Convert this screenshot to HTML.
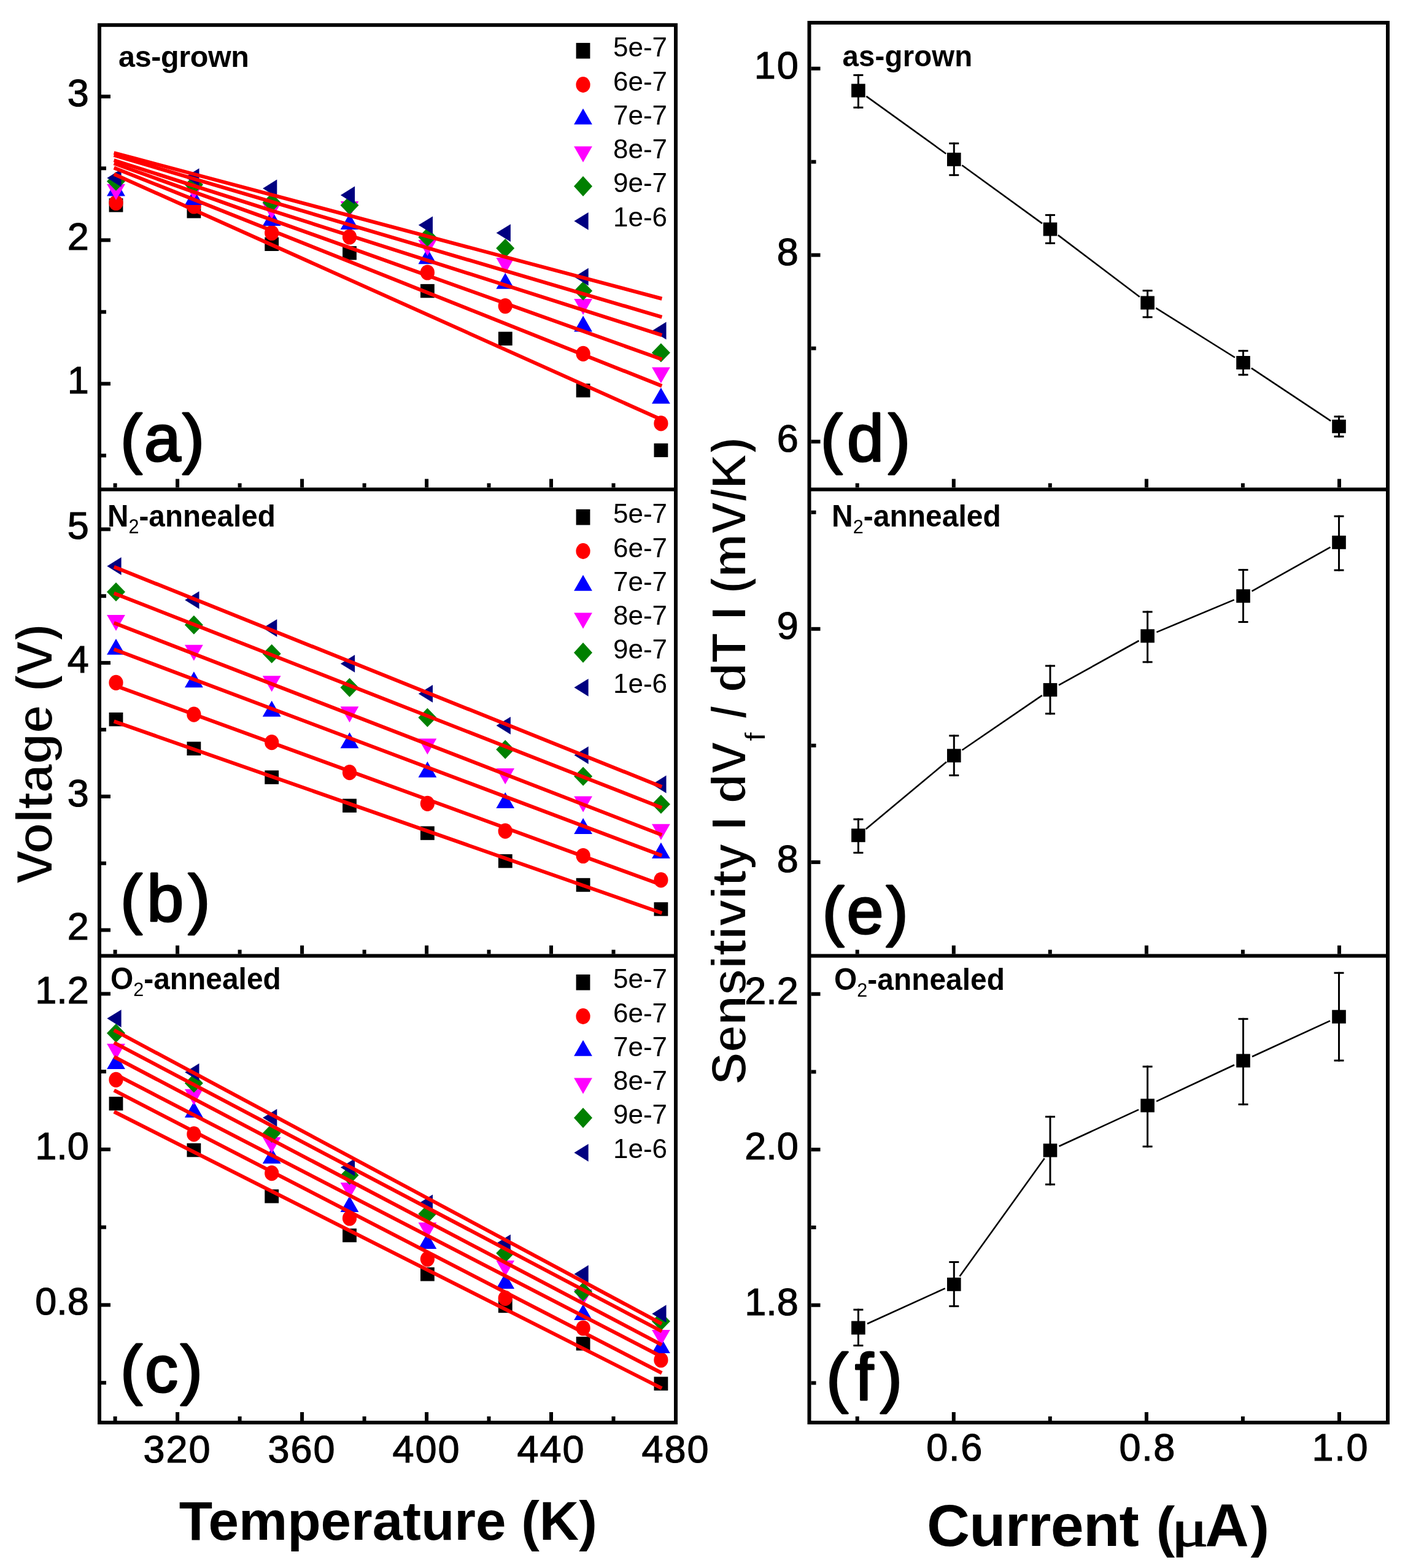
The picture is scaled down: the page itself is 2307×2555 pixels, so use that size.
<!DOCTYPE html>
<html><head><meta charset="utf-8"><title>Figure</title><style>html,body{margin:0;padding:0;background:#fff;}svg{display:block;}</style></head><body>
<svg width="2307" height="2555" viewBox="0 0 2307 2555" font-family='"Liberation Sans", Arial, sans-serif'>
<rect x="0" y="0" width="2307" height="2555" fill="#fff"/>
<defs><filter id="thin" x="-5%" y="-5%" width="110%" height="110%"><feMorphology operator="erode" radius="1"/></filter></defs>
<g fill="#000"><rect x="165.0" y="622.3" width="15.0" height="6.0"/><rect x="165.0" y="388.3" width="15.0" height="6.0"/><rect x="165.0" y="154.3" width="15.0" height="6.0"/><rect x="165.0" y="739.3" width="8.0" height="6.0"/><rect x="165.0" y="505.3" width="8.0" height="6.0"/><rect x="165.0" y="271.3" width="8.0" height="6.0"/><rect x="165.0" y="1512.5" width="15.0" height="6.0"/><rect x="165.0" y="1294.8" width="15.0" height="6.0"/><rect x="165.0" y="1077.1" width="15.0" height="6.0"/><rect x="165.0" y="859.4" width="15.0" height="6.0"/><rect x="165.0" y="1403.7" width="8.0" height="6.0"/><rect x="165.0" y="1185.9" width="8.0" height="6.0"/><rect x="165.0" y="968.2" width="8.0" height="6.0"/><rect x="165.0" y="2123.4" width="15.0" height="6.0"/><rect x="165.0" y="1869.9" width="15.0" height="6.0"/><rect x="165.0" y="1616.4" width="15.0" height="6.0"/><rect x="165.0" y="2250.2" width="8.0" height="6.0"/><rect x="165.0" y="1996.7" width="8.0" height="6.0"/><rect x="165.0" y="1743.1" width="8.0" height="6.0"/><rect x="1321.5" y="716.6" width="15.0" height="6.0"/><rect x="1321.5" y="412.6" width="15.0" height="6.0"/><rect x="1321.5" y="108.7" width="15.0" height="6.0"/><rect x="1321.5" y="564.6" width="8.0" height="6.0"/><rect x="1321.5" y="260.7" width="8.0" height="6.0"/><rect x="1321.5" y="1401.9" width="15.0" height="6.0"/><rect x="1321.5" y="1021.8" width="15.0" height="6.0"/><rect x="1321.5" y="1211.8" width="8.0" height="6.0"/><rect x="1321.5" y="831.8" width="8.0" height="6.0"/><rect x="1321.5" y="2123.7" width="15.0" height="6.0"/><rect x="1321.5" y="1870.2" width="15.0" height="6.0"/><rect x="1321.5" y="1616.7" width="15.0" height="6.0"/><rect x="1321.5" y="2250.5" width="8.0" height="6.0"/><rect x="1321.5" y="1997.0" width="8.0" height="6.0"/><rect x="1321.5" y="1743.5" width="8.0" height="6.0"/><rect x="286.1" y="780.4" width="6.0" height="14.0"/><rect x="489.1" y="780.4" width="6.0" height="14.0"/><rect x="692.1" y="780.4" width="6.0" height="14.0"/><rect x="895.0" y="780.4" width="6.0" height="14.0"/><rect x="184.6" y="787.4" width="6.0" height="7.0"/><rect x="387.6" y="787.4" width="6.0" height="7.0"/><rect x="590.6" y="787.4" width="6.0" height="7.0"/><rect x="793.5" y="787.4" width="6.0" height="7.0"/><rect x="996.5" y="787.4" width="6.0" height="7.0"/><rect x="286.1" y="1540.6" width="6.0" height="14.0"/><rect x="489.1" y="1540.6" width="6.0" height="14.0"/><rect x="692.1" y="1540.6" width="6.0" height="14.0"/><rect x="895.0" y="1540.6" width="6.0" height="14.0"/><rect x="184.6" y="1547.6" width="6.0" height="7.0"/><rect x="387.6" y="1547.6" width="6.0" height="7.0"/><rect x="590.6" y="1547.6" width="6.0" height="7.0"/><rect x="793.5" y="1547.6" width="6.0" height="7.0"/><rect x="996.5" y="1547.6" width="6.0" height="7.0"/><rect x="286.1" y="2301.0" width="6.0" height="14.0"/><rect x="489.1" y="2301.0" width="6.0" height="14.0"/><rect x="692.1" y="2301.0" width="6.0" height="14.0"/><rect x="895.0" y="2301.0" width="6.0" height="14.0"/><rect x="184.6" y="2308.0" width="6.0" height="7.0"/><rect x="387.6" y="2308.0" width="6.0" height="7.0"/><rect x="590.6" y="2308.0" width="6.0" height="7.0"/><rect x="793.5" y="2308.0" width="6.0" height="7.0"/><rect x="996.5" y="2308.0" width="6.0" height="7.0"/><rect x="1550.8" y="780.4" width="6.0" height="14.0"/><rect x="1864.9" y="780.4" width="6.0" height="14.0"/><rect x="2179.0" y="780.4" width="6.0" height="14.0"/><rect x="1393.7" y="787.4" width="6.0" height="7.0"/><rect x="1707.8" y="787.4" width="6.0" height="7.0"/><rect x="2021.9" y="787.4" width="6.0" height="7.0"/><rect x="1550.8" y="1540.6" width="6.0" height="14.0"/><rect x="1864.9" y="1540.6" width="6.0" height="14.0"/><rect x="2179.0" y="1540.6" width="6.0" height="14.0"/><rect x="1393.7" y="1547.6" width="6.0" height="7.0"/><rect x="1707.8" y="1547.6" width="6.0" height="7.0"/><rect x="2021.9" y="1547.6" width="6.0" height="7.0"/><rect x="1550.8" y="2301.0" width="6.0" height="14.0"/><rect x="1864.9" y="2301.0" width="6.0" height="14.0"/><rect x="2179.0" y="2301.0" width="6.0" height="14.0"/><rect x="1393.7" y="2308.0" width="6.0" height="7.0"/><rect x="1707.8" y="2308.0" width="6.0" height="7.0"/><rect x="2021.9" y="2308.0" width="6.0" height="7.0"/></g>
<rect x="177.6" y="323.2" width="22.8" height="22.4" fill="#000"/><rect x="304.5" y="333.1" width="22.8" height="22.4" fill="#000"/><rect x="431.3" y="386.6" width="22.8" height="22.4" fill="#000"/><rect x="558.1" y="401.1" width="22.8" height="22.4" fill="#000"/><rect x="685.0" y="462.9" width="22.8" height="22.4" fill="#000"/><rect x="811.9" y="540.6" width="22.8" height="22.4" fill="#000"/><rect x="938.7" y="625.1" width="22.8" height="22.4" fill="#000"/><rect x="1065.5" y="722.5" width="22.8" height="22.4" fill="#000"/><ellipse cx="189.0" cy="330.5" rx="11.6" ry="12.6" fill="#f00"/><ellipse cx="315.9" cy="336.0" rx="11.6" ry="12.6" fill="#f00"/><ellipse cx="442.7" cy="379.5" rx="11.6" ry="12.6" fill="#f00"/><ellipse cx="569.5" cy="386.0" rx="11.6" ry="12.6" fill="#f00"/><ellipse cx="696.4" cy="444.0" rx="11.6" ry="12.6" fill="#f00"/><ellipse cx="823.2" cy="498.6" rx="11.6" ry="12.6" fill="#f00"/><ellipse cx="950.1" cy="576.4" rx="11.6" ry="12.6" fill="#f00"/><ellipse cx="1076.9" cy="689.9" rx="11.6" ry="12.6" fill="#f00"/><polygon points="189.0,293.6 203.9,319.6 174.1,319.6" fill="#00f"/><polygon points="315.9,308.0 330.8,334.0 301.0,334.0" fill="#00f"/><polygon points="442.7,342.0 457.6,368.0 427.8,368.0" fill="#00f"/><polygon points="569.5,348.0 584.4,374.0 554.6,374.0" fill="#00f"/><polygon points="696.4,404.3 711.3,430.3 681.5,430.3" fill="#00f"/><polygon points="823.2,444.7 838.1,470.7 808.4,470.7" fill="#00f"/><polygon points="950.1,514.5 965.0,540.5 935.2,540.5" fill="#00f"/><polygon points="1076.9,631.8 1091.8,657.8 1062.0,657.8" fill="#00f"/><polygon points="189.0,326.0 203.9,300.0 174.1,300.0" fill="#f0f"/><polygon points="315.9,325.0 330.8,299.0 301.0,299.0" fill="#f0f"/><polygon points="442.7,357.0 457.6,331.0 427.8,331.0" fill="#f0f"/><polygon points="569.5,354.0 584.4,328.0 554.6,328.0" fill="#f0f"/><polygon points="696.4,417.0 711.3,391.0 681.5,391.0" fill="#f0f"/><polygon points="823.2,446.0 838.1,420.0 808.4,420.0" fill="#f0f"/><polygon points="950.1,513.0 965.0,487.0 935.2,487.0" fill="#f0f"/><polygon points="1076.9,624.6 1091.8,598.6 1062.0,598.6" fill="#f0f"/><polygon points="189.0,280.0 204.0,295.5 189.0,311.0 174.0,295.5" fill="#008000"/><polygon points="315.9,285.5 330.9,301.0 315.9,316.5 300.9,301.0" fill="#008000"/><polygon points="442.7,314.5 457.7,330.0 442.7,345.5 427.7,330.0" fill="#008000"/><polygon points="569.5,319.0 584.5,334.5 569.5,350.0 554.5,334.5" fill="#008000"/><polygon points="696.4,370.9 711.4,386.4 696.4,401.9 681.4,386.4" fill="#008000"/><polygon points="823.2,389.0 838.2,404.5 823.2,420.0 808.2,404.5" fill="#008000"/><polygon points="950.1,458.5 965.1,474.0 950.1,489.5 935.1,474.0" fill="#008000"/><polygon points="1076.9,559.3 1091.9,574.8 1076.9,590.3 1061.9,574.8" fill="#008000"/><polygon points="174.4,290.0 197.6,275.6 197.6,304.4" fill="#000080"/><polygon points="301.2,288.7 324.5,274.3 324.5,303.1" fill="#000080"/><polygon points="428.1,307.0 451.3,292.6 451.3,321.4" fill="#000080"/><polygon points="554.9,318.0 578.1,303.6 578.1,332.4" fill="#000080"/><polygon points="681.8,366.8 705.0,352.4 705.0,381.2" fill="#000080"/><polygon points="808.6,379.6 831.9,365.2 831.9,394.0" fill="#000080"/><polygon points="935.5,451.2 958.7,436.8 958.7,465.6" fill="#000080"/><polygon points="1062.3,538.9 1085.5,524.5 1085.5,553.3" fill="#000080"/><g stroke="#f00" stroke-width="6" fill="none" stroke-linecap="square"><line x1="188.5" y1="284.9" x2="1075.5" y2="682.8"/><line x1="188.5" y1="274.5" x2="1075.5" y2="627.8"/><line x1="188.5" y1="267.3" x2="1075.5" y2="584.5"/><line x1="188.5" y1="262.1" x2="1075.5" y2="545.2"/><line x1="188.5" y1="253.7" x2="1075.5" y2="515.8"/><line x1="188.5" y1="249.8" x2="1075.5" y2="486.0"/></g>
<rect x="177.6" y="1161.0" width="22.8" height="22.4" fill="#000"/><rect x="304.5" y="1208.6" width="22.8" height="22.4" fill="#000"/><rect x="431.3" y="1255.4" width="22.8" height="22.4" fill="#000"/><rect x="558.1" y="1301.6" width="22.8" height="22.4" fill="#000"/><rect x="685.0" y="1346.4" width="22.8" height="22.4" fill="#000"/><rect x="811.9" y="1391.9" width="22.8" height="22.4" fill="#000"/><rect x="938.7" y="1430.8" width="22.8" height="22.4" fill="#000"/><rect x="1065.5" y="1470.2" width="22.8" height="22.4" fill="#000"/><ellipse cx="189.0" cy="1112.4" rx="11.6" ry="12.6" fill="#f00"/><ellipse cx="315.9" cy="1164.2" rx="11.6" ry="12.6" fill="#f00"/><ellipse cx="442.7" cy="1209.7" rx="11.6" ry="12.6" fill="#f00"/><ellipse cx="569.5" cy="1258.7" rx="11.6" ry="12.6" fill="#f00"/><ellipse cx="696.4" cy="1309.3" rx="11.6" ry="12.6" fill="#f00"/><ellipse cx="823.2" cy="1354.2" rx="11.6" ry="12.6" fill="#f00"/><ellipse cx="950.1" cy="1394.5" rx="11.6" ry="12.6" fill="#f00"/><ellipse cx="1076.9" cy="1433.8" rx="11.6" ry="12.6" fill="#f00"/><polygon points="189.0,1040.8 203.9,1066.8 174.1,1066.8" fill="#00f"/><polygon points="315.9,1094.3 330.8,1120.3 301.0,1120.3" fill="#00f"/><polygon points="442.7,1141.7 457.6,1167.7 427.8,1167.7" fill="#00f"/><polygon points="569.5,1193.3 584.4,1219.3 554.6,1219.3" fill="#00f"/><polygon points="696.4,1240.7 711.3,1266.7 681.5,1266.7" fill="#00f"/><polygon points="823.2,1290.9 838.1,1316.9 808.4,1316.9" fill="#00f"/><polygon points="950.1,1333.0 965.0,1359.0 935.2,1359.0" fill="#00f"/><polygon points="1076.9,1372.8 1091.8,1398.8 1062.0,1398.8" fill="#00f"/><polygon points="189.0,1027.9 203.9,1001.9 174.1,1001.9" fill="#f0f"/><polygon points="315.9,1076.7 330.8,1050.7 301.0,1050.7" fill="#f0f"/><polygon points="442.7,1127.3 457.6,1101.3 427.8,1101.3" fill="#f0f"/><polygon points="569.5,1177.2 584.4,1151.2 554.6,1151.2" fill="#f0f"/><polygon points="696.4,1229.5 711.3,1203.5 681.5,1203.5" fill="#f0f"/><polygon points="823.2,1278.1 838.1,1252.1 808.4,1252.1" fill="#f0f"/><polygon points="950.1,1323.6 965.0,1297.6 935.2,1297.6" fill="#f0f"/><polygon points="1076.9,1368.7 1091.8,1342.7 1062.0,1342.7" fill="#f0f"/><polygon points="189.0,949.0 204.0,964.5 189.0,980.0 174.0,964.5" fill="#008000"/><polygon points="315.9,1002.8 330.9,1018.3 315.9,1033.8 300.9,1018.3" fill="#008000"/><polygon points="442.7,1049.8 457.7,1065.3 442.7,1080.8 427.7,1065.3" fill="#008000"/><polygon points="569.5,1104.8 584.5,1120.3 569.5,1135.8 554.5,1120.3" fill="#008000"/><polygon points="696.4,1153.8 711.4,1169.3 696.4,1184.8 681.4,1169.3" fill="#008000"/><polygon points="823.2,1205.7 838.2,1221.2 823.2,1236.7 808.2,1221.2" fill="#008000"/><polygon points="950.1,1249.5 965.1,1265.0 950.1,1280.5 935.1,1265.0" fill="#008000"/><polygon points="1076.9,1295.1 1091.9,1310.6 1076.9,1326.1 1061.9,1310.6" fill="#008000"/><polygon points="174.4,922.5 197.6,908.1 197.6,936.9" fill="#000080"/><polygon points="301.2,977.8 324.5,963.4 324.5,992.2" fill="#000080"/><polygon points="428.1,1023.3 451.3,1008.9 451.3,1037.7" fill="#000080"/><polygon points="554.9,1081.4 578.1,1067.0 578.1,1095.8" fill="#000080"/><polygon points="681.8,1130.4 705.0,1116.0 705.0,1144.8" fill="#000080"/><polygon points="808.6,1182.3 831.9,1167.9 831.9,1196.7" fill="#000080"/><polygon points="935.5,1230.6 958.7,1216.2 958.7,1245.0" fill="#000080"/><polygon points="1062.3,1278.0 1085.5,1263.6 1085.5,1292.4" fill="#000080"/><g stroke="#f00" stroke-width="6" fill="none" stroke-linecap="square"><line x1="188.5" y1="1176.4" x2="1075.5" y2="1486.8"/><line x1="188.5" y1="1117.5" x2="1075.5" y2="1441.0"/><line x1="188.5" y1="1059.1" x2="1075.5" y2="1393.1"/><line x1="188.5" y1="1016.1" x2="1075.5" y2="1359.4"/><line x1="188.5" y1="967.7" x2="1075.5" y2="1315.1"/><line x1="188.5" y1="924.8" x2="1075.5" y2="1281.0"/></g>
<rect x="177.6" y="1787.1" width="22.8" height="22.4" fill="#000"/><rect x="304.5" y="1862.9" width="22.8" height="22.4" fill="#000"/><rect x="431.3" y="1938.1" width="22.8" height="22.4" fill="#000"/><rect x="558.1" y="2001.8" width="22.8" height="22.4" fill="#000"/><rect x="685.0" y="2065.1" width="22.8" height="22.4" fill="#000"/><rect x="811.9" y="2116.8" width="22.8" height="22.4" fill="#000"/><rect x="938.7" y="2178.2" width="22.8" height="22.4" fill="#000"/><rect x="1065.5" y="2243.4" width="22.8" height="22.4" fill="#000"/><ellipse cx="189.0" cy="1759.4" rx="11.6" ry="12.6" fill="#f00"/><ellipse cx="315.9" cy="1847.9" rx="11.6" ry="12.6" fill="#f00"/><ellipse cx="442.7" cy="1911.7" rx="11.6" ry="12.6" fill="#f00"/><ellipse cx="569.5" cy="1985.0" rx="11.6" ry="12.6" fill="#f00"/><ellipse cx="696.4" cy="2051.6" rx="11.6" ry="12.6" fill="#f00"/><ellipse cx="823.2" cy="2115.4" rx="11.6" ry="12.6" fill="#f00"/><ellipse cx="950.1" cy="2164.0" rx="11.6" ry="12.6" fill="#f00"/><ellipse cx="1076.9" cy="2216.0" rx="11.6" ry="12.6" fill="#f00"/><polygon points="189.0,1716.0 203.9,1742.0 174.1,1742.0" fill="#00f"/><polygon points="315.9,1795.0 330.8,1821.0 301.0,1821.0" fill="#00f"/><polygon points="442.7,1870.0 457.6,1896.0 427.8,1896.0" fill="#00f"/><polygon points="569.5,1949.0 584.4,1975.0 554.6,1975.0" fill="#00f"/><polygon points="696.4,2009.0 711.3,2035.0 681.5,2035.0" fill="#00f"/><polygon points="823.2,2074.0 838.1,2100.0 808.4,2100.0" fill="#00f"/><polygon points="950.1,2125.0 965.0,2151.0 935.2,2151.0" fill="#00f"/><polygon points="1076.9,2179.0 1091.8,2205.0 1062.0,2205.0" fill="#00f"/><polygon points="189.0,1726.7 203.9,1700.7 174.1,1700.7" fill="#f0f"/><polygon points="315.9,1800.8 330.8,1774.8 301.0,1774.8" fill="#f0f"/><polygon points="442.7,1879.0 457.6,1853.0 427.8,1853.0" fill="#f0f"/><polygon points="569.5,1953.0 584.4,1927.0 554.6,1927.0" fill="#f0f"/><polygon points="696.4,2018.0 711.3,1992.0 681.5,1992.0" fill="#f0f"/><polygon points="823.2,2080.0 838.1,2054.0 808.4,2054.0" fill="#f0f"/><polygon points="950.1,2127.0 965.0,2101.0 935.2,2101.0" fill="#f0f"/><polygon points="1076.9,2193.0 1091.8,2167.0 1062.0,2167.0" fill="#f0f"/><polygon points="189.0,1668.1 204.0,1683.6 189.0,1699.1 174.0,1683.6" fill="#008000"/><polygon points="315.9,1749.5 330.9,1765.0 315.9,1780.5 300.9,1765.0" fill="#008000"/><polygon points="442.7,1831.0 457.7,1846.5 442.7,1862.0 427.7,1846.5" fill="#008000"/><polygon points="569.5,1899.5 584.5,1915.0 569.5,1930.5 554.5,1915.0" fill="#008000"/><polygon points="696.4,1962.5 711.4,1978.0 696.4,1993.5 681.4,1978.0" fill="#008000"/><polygon points="823.2,2026.5 838.2,2042.0 823.2,2057.5 808.2,2042.0" fill="#008000"/><polygon points="950.1,2089.2 965.1,2104.7 950.1,2120.2 935.1,2104.7" fill="#008000"/><polygon points="1076.9,2137.5 1091.9,2153.0 1076.9,2168.5 1061.9,2153.0" fill="#008000"/><polygon points="174.4,1659.6 197.6,1645.2 197.6,1674.0" fill="#000080"/><polygon points="301.2,1747.2 324.5,1732.8 324.5,1761.6" fill="#000080"/><polygon points="428.1,1821.3 451.3,1806.9 451.3,1835.7" fill="#000080"/><polygon points="554.9,1902.2 578.1,1887.8 578.1,1916.6" fill="#000080"/><polygon points="681.8,1961.0 705.0,1946.6 705.0,1975.4" fill="#000080"/><polygon points="808.6,2026.0 831.9,2011.6 831.9,2040.4" fill="#000080"/><polygon points="935.5,2076.0 958.7,2061.6 958.7,2090.4" fill="#000080"/><polygon points="1062.3,2140.7 1085.5,2126.3 1085.5,2155.1" fill="#000080"/><g stroke="#f00" stroke-width="6" fill="none" stroke-linecap="square"><line x1="188.5" y1="1812.8" x2="1075.5" y2="2260.8"/><line x1="188.5" y1="1778.0" x2="1075.5" y2="2235.9"/><line x1="188.5" y1="1750.9" x2="1075.5" y2="2209.4"/><line x1="188.5" y1="1723.5" x2="1075.5" y2="2189.9"/><line x1="188.5" y1="1700.3" x2="1075.5" y2="2168.0"/><line x1="188.5" y1="1680.1" x2="1075.5" y2="2155.6"/></g>
<rect x="938.6" y="69.9" width="22.8" height="25.6" fill="#000"/><text x="999" y="92.2" font-size="44">5e-7</text><ellipse cx="950.0" cy="138.0" rx="11.6" ry="12.9" fill="#f00"/><text x="999" y="147.8" font-size="44">6e-7</text><polygon points="950.0,176.7 964.9,202.7 935.1,202.7" fill="#00f"/><text x="999" y="202.6" font-size="44">7e-7</text><polygon points="950.0,264.5 964.9,238.5 935.1,238.5" fill="#f0f"/><text x="999" y="257.5" font-size="44">8e-7</text><polygon points="950.0,286.9 965.0,303.4 950.0,319.9 935.0,303.4" fill="#008000"/><text x="999" y="313.1" font-size="44">9e-7</text><polygon points="935.4,360.3 958.6,345.9 958.6,374.7" fill="#000080"/><text x="999" y="368.8" font-size="44">1e-6</text>
<rect x="938.6" y="829.9" width="22.8" height="25.6" fill="#000"/><text x="999" y="852.2" font-size="44">5e-7</text><ellipse cx="950.0" cy="898.0" rx="11.6" ry="12.9" fill="#f00"/><text x="999" y="907.8" font-size="44">6e-7</text><polygon points="950.0,936.7 964.9,962.7 935.1,962.7" fill="#00f"/><text x="999" y="962.6" font-size="44">7e-7</text><polygon points="950.0,1024.5 964.9,998.5 935.1,998.5" fill="#f0f"/><text x="999" y="1017.5" font-size="44">8e-7</text><polygon points="950.0,1046.9 965.0,1063.4 950.0,1079.9 935.0,1063.4" fill="#008000"/><text x="999" y="1073.1" font-size="44">9e-7</text><polygon points="935.4,1120.3 958.6,1105.9 958.6,1134.7" fill="#000080"/><text x="999" y="1128.8" font-size="44">1e-6</text>
<rect x="938.6" y="1587.9" width="22.8" height="25.6" fill="#000"/><text x="999" y="1610.2" font-size="44">5e-7</text><ellipse cx="950.0" cy="1656.0" rx="11.6" ry="12.9" fill="#f00"/><text x="999" y="1665.8" font-size="44">6e-7</text><polygon points="950.0,1694.7 964.9,1720.7 935.1,1720.7" fill="#00f"/><text x="999" y="1720.6" font-size="44">7e-7</text><polygon points="950.0,1782.5 964.9,1756.5 935.1,1756.5" fill="#f0f"/><text x="999" y="1775.5" font-size="44">8e-7</text><polygon points="950.0,1804.9 965.0,1821.4 950.0,1837.9 935.0,1821.4" fill="#008000"/><text x="999" y="1831.1" font-size="44">9e-7</text><polygon points="935.4,1878.3 958.6,1863.9 958.6,1892.7" fill="#000080"/><text x="999" y="1886.8" font-size="44">1e-6</text>
<line x1="1411.4" y1="156.9" x2="1541.3" y2="250.5" stroke="#000" stroke-width="2.6"/><line x1="1567.3" y1="269.2" x2="1698.0" y2="364.1" stroke="#000" stroke-width="2.6"/><line x1="1723.8" y1="383.1" x2="1856.8" y2="483.8" stroke="#000" stroke-width="2.6"/><line x1="1883.2" y1="501.9" x2="2011.9" y2="582.5" stroke="#000" stroke-width="2.6"/><line x1="2038.8" y1="599.9" x2="2168.2" y2="685.9" stroke="#000" stroke-width="2.6"/><rect x="1396.9" y="120.9" width="3" height="55.8"/><rect x="1390.4" y="120.9" width="16" height="3"/><rect x="1390.4" y="173.7" width="16" height="3"/><rect x="1387.1" y="136.6" width="22.6" height="22"/><rect x="1552.8" y="232.2" width="3" height="54.6"/><rect x="1546.3" y="232.2" width="16" height="3"/><rect x="1546.3" y="283.8" width="16" height="3"/><rect x="1543.0" y="248.8" width="22.6" height="22"/><rect x="1709.5" y="348.9" width="3" height="48.9"/><rect x="1703.0" y="348.9" width="16" height="3"/><rect x="1703.0" y="394.8" width="16" height="3"/><rect x="1699.7" y="362.5" width="22.6" height="22"/><rect x="1868.1" y="472.1" width="3" height="46.2"/><rect x="1861.6" y="472.1" width="16" height="3"/><rect x="1861.6" y="515.3" width="16" height="3"/><rect x="1858.3" y="482.4" width="22.6" height="22"/><rect x="2024.0" y="570.2" width="3" height="42.0"/><rect x="2017.5" y="570.2" width="16" height="3"/><rect x="2017.5" y="609.2" width="16" height="3"/><rect x="2014.2" y="580.0" width="22.6" height="22"/><rect x="2180.0" y="677.3" width="3" height="35.5"/><rect x="2173.5" y="677.3" width="16" height="3"/><rect x="2173.5" y="709.8" width="16" height="3"/><rect x="2170.2" y="683.8" width="22.6" height="22"/>
<line x1="1410.7" y1="1351.0" x2="1542.0" y2="1241.5" stroke="#000" stroke-width="2.6"/><line x1="1567.5" y1="1222.3" x2="1697.8" y2="1133.1" stroke="#000" stroke-width="2.6"/><line x1="1725.0" y1="1116.4" x2="1855.6" y2="1044.0" stroke="#000" stroke-width="2.6"/><line x1="1884.4" y1="1030.1" x2="2010.7" y2="977.4" stroke="#000" stroke-width="2.6"/><line x1="2039.5" y1="963.4" x2="2167.5" y2="891.6" stroke="#000" stroke-width="2.6"/><rect x="1396.9" y="1333.5" width="3" height="57.5"/><rect x="1390.4" y="1333.5" width="16" height="3"/><rect x="1390.4" y="1388.0" width="16" height="3"/><rect x="1387.1" y="1350.2" width="22.6" height="22"/><rect x="1552.8" y="1197.3" width="3" height="67.6"/><rect x="1546.3" y="1197.3" width="16" height="3"/><rect x="1546.3" y="1261.9" width="16" height="3"/><rect x="1543.0" y="1220.3" width="22.6" height="22"/><rect x="1709.5" y="1083.5" width="3" height="80.9"/><rect x="1703.0" y="1083.5" width="16" height="3"/><rect x="1703.0" y="1161.4" width="16" height="3"/><rect x="1699.7" y="1113.1" width="22.6" height="22"/><rect x="1868.1" y="995.5" width="3" height="84.8"/><rect x="1861.6" y="995.5" width="16" height="3"/><rect x="1861.6" y="1077.3" width="16" height="3"/><rect x="1858.3" y="1025.3" width="22.6" height="22"/><rect x="2024.0" y="927.1" width="3" height="87.9"/><rect x="2017.5" y="927.1" width="16" height="3"/><rect x="2017.5" y="1012.0" width="16" height="3"/><rect x="2014.2" y="960.2" width="22.6" height="22"/><rect x="2180.0" y="839.7" width="3" height="90.9"/><rect x="2173.5" y="839.7" width="16" height="3"/><rect x="2173.5" y="927.6" width="16" height="3"/><rect x="2170.2" y="872.8" width="22.6" height="22"/>
<line x1="1413.0" y1="2157.0" x2="1539.7" y2="2099.4" stroke="#000" stroke-width="2.6"/><line x1="1563.6" y1="2079.8" x2="1701.7" y2="1887.5" stroke="#000" stroke-width="2.6"/><line x1="1725.5" y1="1867.8" x2="1855.1" y2="1808.1" stroke="#000" stroke-width="2.6"/><line x1="1884.1" y1="1794.6" x2="2011.0" y2="1735.2" stroke="#000" stroke-width="2.6"/><line x1="2040.0" y1="1721.7" x2="2167.0" y2="1663.4" stroke="#000" stroke-width="2.6"/><rect x="1396.9" y="2132.6" width="3" height="61.4"/><rect x="1390.4" y="2132.6" width="16" height="3"/><rect x="1390.4" y="2191.0" width="16" height="3"/><rect x="1387.1" y="2152.6" width="22.6" height="22"/><rect x="1552.8" y="2055.0" width="3" height="74.9"/><rect x="1546.3" y="2055.0" width="16" height="3"/><rect x="1546.3" y="2126.9" width="16" height="3"/><rect x="1543.0" y="2081.8" width="22.6" height="22"/><rect x="1709.5" y="1818.2" width="3" height="113.3"/><rect x="1703.0" y="1818.2" width="16" height="3"/><rect x="1703.0" y="1928.5" width="16" height="3"/><rect x="1699.7" y="1863.5" width="22.6" height="22"/><rect x="1868.1" y="1736.5" width="3" height="133.2"/><rect x="1861.6" y="1736.5" width="16" height="3"/><rect x="1861.6" y="1866.7" width="16" height="3"/><rect x="1858.3" y="1790.4" width="22.6" height="22"/><rect x="2024.0" y="1658.8" width="3" height="142.3"/><rect x="2017.5" y="1658.8" width="16" height="3"/><rect x="2017.5" y="1798.1" width="16" height="3"/><rect x="2014.2" y="1717.4" width="22.6" height="22"/><rect x="2180.0" y="1583.8" width="3" height="145.8"/><rect x="2173.5" y="1583.8" width="16" height="3"/><rect x="2173.5" y="1726.6" width="16" height="3"/><rect x="2170.2" y="1645.7" width="22.6" height="22"/>
<g fill="none" stroke="#000" stroke-width="6"><rect x="162.0" y="40.8" width="939.0" height="2277.2"/><line x1="162.0" y1="797.4" x2="1101.0" y2="797.4"/><line x1="162.0" y1="1557.6" x2="1101.0" y2="1557.6"/><rect x="1318.5" y="37.0" width="942.5" height="2281.0"/><line x1="1318.5" y1="797.4" x2="2261.0" y2="797.4"/><line x1="1318.5" y1="1557.6" x2="2261.0" y2="1557.6"/></g>
<g font-size="63" stroke="#000" stroke-width="1.2"><text x="146.8" y="641.2" text-anchor="end" letter-spacing="2.0">1</text><text x="146.8" y="407.2" text-anchor="end" letter-spacing="2.0">2</text><text x="146.8" y="173.2" text-anchor="end" letter-spacing="2.0">3</text><text x="146.8" y="1531.4" text-anchor="end" letter-spacing="2.0">2</text><text x="146.8" y="1313.7" text-anchor="end" letter-spacing="2.0">3</text><text x="146.8" y="1096.0" text-anchor="end" letter-spacing="2.0">4</text><text x="146.8" y="878.3" text-anchor="end" letter-spacing="2.0">5</text><text x="144.8" y="2142.3" text-anchor="end">0.8</text><text x="144.8" y="1888.8" text-anchor="end">1.0</text><text x="144.8" y="1635.3" text-anchor="end">1.2</text><text x="1302.8" y="735.5" text-anchor="end" letter-spacing="2.0">6</text><text x="1302.8" y="431.5" text-anchor="end" letter-spacing="2.0">8</text><text x="1302.8" y="127.6" text-anchor="end" letter-spacing="2.0">10</text><text x="1302.8" y="1420.8" text-anchor="end" letter-spacing="2.0">8</text><text x="1302.8" y="1040.7" text-anchor="end" letter-spacing="2.0">9</text><text x="1300.8" y="2142.6" text-anchor="end">1.8</text><text x="1300.8" y="1889.1" text-anchor="end">2.0</text><text x="1300.8" y="1635.6" text-anchor="end">2.2</text><text x="289.1" y="2382.6" text-anchor="middle" letter-spacing="2.0">320</text><text x="492.1" y="2382.6" text-anchor="middle" letter-spacing="2.0">360</text><text x="695.1" y="2382.6" text-anchor="middle" letter-spacing="2.0">400</text><text x="898.0" y="2382.6" text-anchor="middle" letter-spacing="2.0">440</text><text x="1101.0" y="2382.6" text-anchor="middle" letter-spacing="2.0">480</text><text x="1554.8" y="2379.7" text-anchor="middle" textLength="91" lengthAdjust="spacing">0.6</text><text x="1868.9" y="2379.7" text-anchor="middle" textLength="91" lengthAdjust="spacing">0.8</text><text x="2183.0" y="2379.7" text-anchor="middle" textLength="91" lengthAdjust="spacing">1.0</text></g>
<text x="193.1" y="108.5" font-size="48.5" font-weight="bold" textLength="212.8" lengthAdjust="spacing">as-grown</text><text x="1372.6" y="108.1" font-size="47.4" font-weight="bold" textLength="211.7" lengthAdjust="spacing">as-grown</text>
<text x="175.1" y="858.4" font-size="50.4" font-weight="bold" textLength="273.9" lengthAdjust="spacingAndGlyphs">N<tspan font-size="32.3" font-weight="normal" dy="10.6">2</tspan><tspan dy="-10.6">-annealed</tspan></text>
<text x="1355.0" y="858.4" font-size="49.1" font-weight="bold" textLength="275.9" lengthAdjust="spacingAndGlyphs">N<tspan font-size="31.4" font-weight="normal" dy="10.3">2</tspan><tspan dy="-10.3">-annealed</tspan></text>
<text x="180.0" y="1612.4" font-size="49.9" font-weight="bold" textLength="277.8" lengthAdjust="spacingAndGlyphs">O<tspan font-size="31.9" font-weight="normal" dy="10.5">2</tspan><tspan dy="-10.5">-annealed</tspan></text>
<text x="1359.0" y="1613.2" font-size="49.9" font-weight="bold" textLength="277.9" lengthAdjust="spacingAndGlyphs">O<tspan font-size="31.9" font-weight="normal" dy="10.5">2</tspan><tspan dy="-10.5">-annealed</tspan></text>
<text x="196.1" y="750.7" font-size="107.6" font-weight="normal" textLength="137.0" lengthAdjust="spacing" stroke="#000" stroke-width="3.0" stroke-linejoin="round">(a)</text>
<text x="196.1" y="1501.0" font-size="107.8" font-weight="normal" textLength="146.4" lengthAdjust="spacing" stroke="#000" stroke-width="3.0" stroke-linejoin="round">(b)</text>
<text x="196.1" y="2268.1" font-size="108.2" font-weight="normal" textLength="134.0" lengthAdjust="spacing" stroke="#000" stroke-width="3.0" stroke-linejoin="round">(c)</text>
<text x="1336.7" y="750.9" font-size="107.8" font-weight="normal" textLength="146.4" lengthAdjust="spacing" stroke="#000" stroke-width="3.0" stroke-linejoin="round">(d)</text>
<text x="1339.6" y="1520.8" font-size="107.9" font-weight="normal" textLength="140.0" lengthAdjust="spacing" stroke="#000" stroke-width="3.0" stroke-linejoin="round">(e)</text>
<text x="1346.1" y="2281.0" font-size="108.3" font-weight="normal" textLength="124.1" lengthAdjust="spacing" stroke="#000" stroke-width="3.0" stroke-linejoin="round">(f)</text>
<text x="291.7" y="2509.0" font-size="89.1" font-weight="bold" textLength="681.1" lengthAdjust="spacing">Temperature (K)</text>
<text y="2519.4" font-size="97.0" font-weight="bold"><tspan x="1510.0" textLength="345.9" lengthAdjust="spacing">Current</tspan> <tspan x="1883.8" font-size="91.2">(</tspan><tspan x="1908.5" font-size="85.0" font-family="Liberation Serif" font-weight="normal" textLength="60.0" lengthAdjust="spacingAndGlyphs" stroke="#000" stroke-width="1.5">&#956;</tspan><tspan x="1963.3" font-size="99.1">A</tspan><tspan x="2037.6" font-size="91.2">)</tspan></text>
<g filter="url(#thin)"><text transform="translate(85.4,1440.8) rotate(-90)" font-size="84.0" font-weight="bold" textLength="424.3" lengthAdjust="spacing">Voltage (V)</text></g>
<g filter="url(#thin)"><text transform="translate(1214.6,1767.7) rotate(-90)" font-size="80.0" font-weight="bold" textLength="1055.3" lengthAdjust="spacing">Sensitivity I dV<tspan font-size="48.0" dy="32">f</tspan><tspan dy="-32"> / dT I (mV/K)</tspan></text></g>
</svg>
</body></html>
